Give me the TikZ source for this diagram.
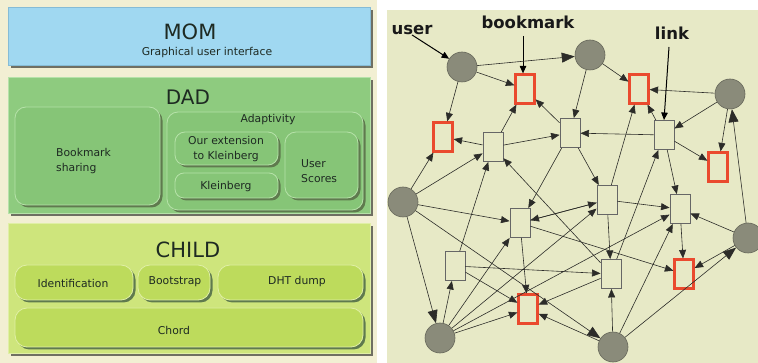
\documentclass[tikz,border=0pt]{standalone}
\usepackage{fontspec}
\setmainfont{DejaVu Sans}
\usetikzlibrary{arrows.meta,shadows}

\definecolor{cream}{HTML}{F2EFD3}
\definecolor{panelbg}{HTML}{E7E9C6}
\definecolor{momfill}{HTML}{A0D8F1}
\definecolor{momline}{HTML}{86BCD6}
\definecolor{dadfill}{HTML}{8ECB7F}
\definecolor{dadinner}{HTML}{86C577}
\definecolor{dadline}{HTML}{B6E2A9}
\definecolor{childfill}{HTML}{CEE57C}
\definecolor{childinner}{HTML}{BDDB5C}
\definecolor{childline}{HTML}{E0EFA6}
\definecolor{layershadow}{HTML}{6F6F62}
\definecolor{partshadow}{HTML}{5F7A4E}
\definecolor{usergray}{HTML}{8A8B7A}
\definecolor{usergrayline}{HTML}{66675A}
\definecolor{redbox}{HTML}{EA4A2E}
\definecolor{edgegray}{HTML}{2C2C29}
\definecolor{textdark}{HTML}{1E2A22}

\tikzset{
  layer/.style={rectangle, inner sep=0, line width=0.8pt,
    general shadow={fill=layershadow, shadow xshift=3pt, shadow yshift=-3pt}},
  part/.style={rectangle, rounded corners=11pt, inner sep=0, line width=0.8pt,
    general shadow={fill=partshadow, shadow xshift=2.5pt, shadow yshift=-2.5pt}},
  title/.style={text=textdark, font=\fontsize{21}{24}\selectfont, inner sep=0},
  small/.style={text=textdark, font=\fontsize{10.8}{15}\selectfont, inner sep=0},
  user/.style={circle, fill=usergray, draw=usergrayline, line width=0.6pt,
    minimum size=30pt, inner sep=0},
  linkbox/.style={rectangle, fill=panelbg, draw=gray!80!black, line width=0.9pt,
    minimum width=20pt, minimum height=29pt, inner sep=0},
  markbox/.style={rectangle, fill=panelbg, draw=redbox, line width=2.2pt,
    minimum width=19pt, minimum height=29pt, inner sep=0},
  lbl/.style={font=\bfseries\fontsize{16.5}{18}\selectfont, text=black!90, inner sep=0},
  edge/.style={draw=edgegray, line width=0.6pt, -{Triangle[length=8.5pt,width=7pt]}},
  bigedge/.style={draw=edgegray, line width=0.6pt, -{Triangle[length=13pt,width=10pt]}},
  lblarrow/.style={draw=black, line width=1pt, -{Triangle[length=7.5pt,width=6.5pt]}},
}

\begin{document}
\begin{tikzpicture}[x=1pt,y=-1pt]
\clip (0,0) rectangle (758,363);
\fill[white] (0,0) rectangle (758,363);

% ---------- layered architecture ----------
\fill[cream] (0,0) rectangle (377,363);

\node[layer, fill=momfill, draw=momline, minimum width=362pt, minimum height=58pt] (mom) at (189,36) {};
\node[title] (momt) at (190,32) {MOM};
\node[small] (gui) at (207,53) {Graphical user interface};

\node[layer, fill=dadfill, draw=dadline, minimum width=362pt, minimum height=136pt] (dad) at (189,145) {};
\node[title, font=\fontsize{20}{24}\selectfont] (dadt) at (188,97) {DAD};
\node[part, fill=dadinner, draw=dadline, minimum width=145pt, minimum height=98pt] (bms) at (87.5,156) {};
\node[small, align=left, anchor=west] (bmst) at (56,161) {Bookmark\\sharing};
\node[part, fill=dadinner, draw=dadline, minimum width=196pt, minimum height=98pt] (adapt) at (265,161) {};
\node[small] (adaptt) at (268,120) {Adaptivity};
\node[part, rounded corners=10pt, fill=dadinner, draw=dadline, minimum width=103pt, minimum height=33pt] (ext) at (226.5,148.5) {};
\node[small, align=center] (extt) at (226,149) {Our extension\\to Kleinberg};
\node[part, rounded corners=9pt, fill=dadinner, draw=dadline, minimum width=103pt, minimum height=25pt] (klb) at (226.5,185.5) {};
\node[small] (klbt) at (226,187) {Kleinberg};
\node[part, fill=dadinner, draw=dadline, minimum width=73pt, minimum height=66pt] (us) at (321.5,165) {};
\node[small, align=left, anchor=west] (ust) at (301,171) {User\\Scores};

\node[layer, fill=childfill, draw=childline, minimum width=362pt, minimum height=130pt] (child) at (189,288) {};
\node[title] (childt) at (188,250) {CHILD};
\node[part, rounded corners=12pt, fill=childinner, draw=childline, minimum width=118pt, minimum height=35pt] (ident) at (74,282.5) {};
\node[small] (identt) at (73,283) {Identification};
\node[part, rounded corners=12pt, fill=childinner, draw=childline, minimum width=72pt, minimum height=35pt] (boot) at (174,282.5) {};
\node[small] (boott) at (175,282) {Bootstrap};
\node[part, rounded corners=12pt, fill=childinner, draw=childline, minimum width=145pt, minimum height=35pt] (dht) at (290.5,282.5) {};
\node[small] (dhtt) at (297,282) {DHT dump};
\node[part, rounded corners=12pt, fill=childinner, draw=childline, minimum width=348pt, minimum height=39pt] (chord) at (189,327.5) {};
\node[small] (chordt) at (174,330) {Chord};

% ---------- user / bookmark / link graph ----------
\fill[panelbg] (387,10) rectangle (758,363);

% users
\node[user] (U1) at (462,67) {};
\node[user] (U2) at (590,55) {};
\node[user] (U3) at (730,94) {};
\node[user] (U4) at (403,202) {};
\node[user] (U5) at (748,238) {};
\node[user] (U6) at (440,338) {};
\node[user] (U7) at (613,347) {};
% bookmarks
\node[markbox] (B1) at (525,89) {};
\node[markbox] (B2) at (639,89) {};
\node[markbox] (B3) at (443,137) {};
\node[markbox] (B4) at (718,167) {};
\node[markbox] (B5) at (684,274) {};
\node[markbox] (B6) at (528,309) {};
% links
\node[linkbox] (L1) at (493,147) {};
\node[linkbox] (L2) at (570,133) {};
\node[linkbox] (L3) at (664,135) {};
\node[linkbox] (L4) at (520,223) {};
\node[linkbox] (L5) at (607,200) {};
\node[linkbox] (L6) at (680,209) {};
\node[linkbox] (L7) at (455,266) {};
\node[linkbox] (L8) at (611,274) {};

% captions
\node[lbl] (userl) at (412,30) {user};
\node[lbl] (markl) at (528,22) {bookmark};
\node[lbl] (linkl) at (672,33) {link};
\coordinate (markfoot) at (523,36);
\coordinate (linkfoot) at (669,47);
\draw[lblarrow] (userl.south) -- (U1);
\draw[lblarrow] (markfoot) -- (B1.north -| markfoot);
\draw[lblarrow] (linkfoot) -- (L3.north);

% user-to-user edges
\draw[bigedge] (U1) -- (U2);
\draw[bigedge] (U5) -- (U3);
\draw[bigedge] (U4) -- (U6);
\draw[bigedge] (U4) -- (U7);
\draw[bigedge] (U7) -- (U5);

% remaining edges
\foreach \a/\b in {
  U1/B1, U1/B3, U2/B2, U2/L2, U3/B2, U3/L3, U3/B4,
  L2/B1, L1/B1, L1/B3, L1/L2, L3/L2, L3/B2, L3/B4, L3/L6,
  L2/L5, L2/L4, L5/B2, L5/L8, L5/L6, L5/L4, L4/L5, L4/B6, L4/B5,
  L6/B5, U5/L6, U5/B5, U4/B3, U4/L1, U4/L4,
  U6/L7, U6/B6, U6/L4, U6/L5, U6/L6,
  L7/L1, L7/L8, L7/B6, L8/B6, L8/L1, L8/L3,
  U7/L8, U7/L6, U7/B6}
  \draw[edge] (\a) -- (\b);

\end{tikzpicture}
\end{document}
